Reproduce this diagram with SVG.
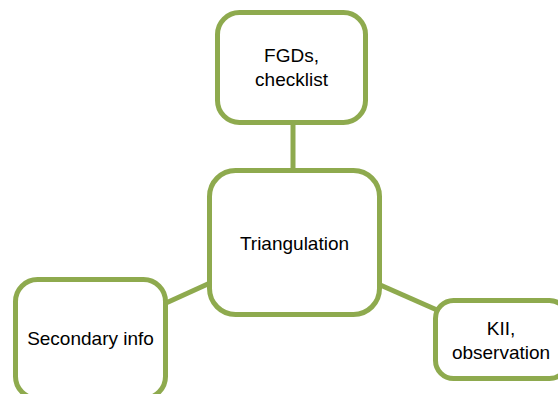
<svg xmlns="http://www.w3.org/2000/svg" width="558" height="394" viewBox="0 0 558 394">
  <style>
    .box { fill: #ffffff; stroke: #8eaa4e; stroke-width: 5; }
    .link { stroke: #8eaa4e; stroke-width: 5; fill: none; }
    .label { font-family: "Liberation Sans", Arial, sans-serif; font-size: 19px; fill: #000000; text-anchor: middle; }
  </style>
  <rect width="558" height="394" fill="#ffffff"/>

  <!-- connectors from the central node to each source -->
  <g id="connectors">
    <line class="link" x1="293" y1="122" x2="293" y2="172"/>
    <line class="link" x1="166" y1="303" x2="210" y2="283"/>
    <line class="link" x1="378" y1="284" x2="437" y2="310"/>
  </g>

  <g id="node-fgds">
    <rect class="box" x="217.5" y="12.5" width="148" height="110" rx="22" ry="22"/>
    <text class="label" x="291.5" y="62">FGDs,</text>
    <text class="label" x="291.5" y="86">checklist</text>
  </g>

  <g id="node-triangulation">
    <rect class="box" x="209.5" y="170.5" width="170" height="144" rx="26" ry="26"/>
    <text class="label" x="294.5" y="250">Triangulation</text>
  </g>

  <g id="node-secondary">
    <rect class="box" x="15.5" y="279.5" width="150" height="119" rx="22" ry="22"/>
    <text class="label" x="90.5" y="345">Secondary info</text>
  </g>

  <g id="node-kii">
    <rect class="box" x="435.5" y="300.5" width="132" height="78" rx="18" ry="18"/>
    <text class="label" x="501" y="335">KII,</text>
    <text class="label" x="501" y="359">observation</text>
  </g>
</svg>
